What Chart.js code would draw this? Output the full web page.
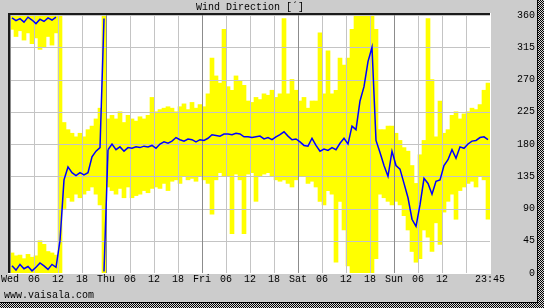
<!DOCTYPE html>
<html>
<head>
<meta charset="utf-8">
<script src="https://cdn.jsdelivr.net/npm/chart.js@4"></script>
<style>
  html, body { margin: 0; padding: 0; background: #cccccc; }
  #wrap { width: 544px; height: 308px; }
</style>
</head>
<body>
<div id="wrap"><canvas id="chart" width="544" height="308"></canvas></div>
<script>
// wind direction, hourly, Wed 00:00 -> Sun 23:45
const dayNames = ['Wed', 'Thu', 'Fri', 'Sat', 'Sun'];
const yTicks = [0, 45, 90, 135, 180, 225, 270, 315, 360];

// average direction
const avgDir = [
  356, 352, 355, 350, 357, 353, 348, 354, 351, 356, 353, 357,
  45,
  130, 148, 140, 136, 140, 137, 140, 162, 170, 175,
  355,
  172, 180, 172, 176, 170, 175,
  174, 176, 175, 177, 176, 178, 174, 180, 183, 181,
  184, 189, 186, 184, 187, 186, 183, 186, 185, 188,
  193, 192, 191, 194, 194, 193, 195, 194, 190, 190,
  189, 190, 191, 187, 189, 186, 190, 193, 197, 191,
  186, 187, 183, 178, 177, 188, 178, 170, 173, 171,
  175, 172, 181, 188, 180, 205, 200, 240, 260, 295,
  315, 185, 168, 150, 135, 170, 150, 145, 125, 105,
  75, 65, 95, 132, 125, 110, 128, 130, 150, 158,
  172, 160, 176, 174, 180, 184, 185, 189, 190, 186
];
// same average seen on the 0° side when it wraps past north
const avgWrap = [
  10, 4, 12, 6, 9, 3, 8, 14, 10, 5, 12, 8,
  45,
  null, null, null, null, null, null, null, null, null, null,
  2, 172
];

// min / max direction
const minDir = [
  340, 330, 338, 325, 335, 320, 328, 312, 315, 330, 318, 335,
  0,
  90, 105, 100, 110, 105, 110, 115, 120, 110, 95,
  0,
  120, 115, 110, 118, 105, 120,
  105, 108, 110, 115, 112, 118, 120, 118, 125, 115,
  128, 130, 125, 135, 130, 132, 128, 135, 130, 125,
  82, 130, 140, 135, 135, 55, 138, 130, 55, 138,
  140, 100, 135, 138, 140, 135, 130, 128, 130, 125,
  120, 130, 135, 135, 125, 128, 120, 100, 95, 115,
  110, 15, 100, 60, 10, 0, 0, 0, 0, 0,
  0, 20, 110, 105, 100, 95, 100, 95, 80, 60,
  30, 15, 20, 60, 50, 30, 70, 40, 85, 100,
  110, 75, 115, 120, 125, 128, 120, 135, 130, 75
];
const maxDir = [
  360, 360, 360, 360, 360, 360, 360, 360, 360, 360, 360, 360,
  360,
  210, 200, 195, 190, 195, 190, 200, 205, 215, 230,
  360,
  215, 220, 215, 225, 210, 220,
  215, 212, 218, 215, 220, 245, 225, 228, 230, 232,
  230, 225, 232, 236, 228, 238, 230, 235, 232, 250,
  300, 275, 265, 340, 260, 255, 275, 268, 262, 240,
  238, 245, 242, 250, 248, 255, 245, 250, 355, 250,
  270, 255, 240, 245, 230, 240, 240, 335, 250, 310,
  250, 255, 300, 290, 300, 340, 360, 360, 360, 360,
  360, 340, 200, 200, 205, 205, 195, 185, 175, 170,
  150, 125, 165, 185, 355, 270, 190, 240, 195, 200,
  220, 225, 215, 222, 225, 230, 228, 235, 255, 265
];
// max on the 0° side for the northerly hours of Wed morning
const maxWrap = [28, 24, 25, 20, 26, 22, 24, 45, 40, 30, 28, 25];

Chart.defaults.font.family = "'Liberation Mono', 'DejaVu Sans Mono', monospace";
Chart.defaults.font.size = 10;
Chart.defaults.color = '#000';

const pts = arr => arr.map((v, i) => ({ x: i + 0.5, y: v }));
const rangePts = (lo, hi) => hi.map((v, i) => ({ x: i + 0.5, y: [lo ? lo[i] : 0, v] }));

// hide the segment where the direction wraps across north
const wrapSegment = {
  borderColor: ctx => Math.abs(ctx.p1.parsed.y - ctx.p0.parsed.y) > 180 ? 'rgba(0,0,0,0)' : undefined
};

// checker pattern for the shadow strips
const pc = document.createElement('canvas');
pc.width = 2; pc.height = 2;
const pctx = pc.getContext('2d');
pctx.fillStyle = '#d8d8d8'; pctx.fillRect(0, 0, 2, 2);
pctx.fillStyle = '#000'; pctx.fillRect(0, 0, 1, 1); pctx.fillRect(1, 1, 1, 1);

const frame = {
  id: 'frame',
  beforeDraw(chart) {
    const ctx = chart.ctx, a = chart.chartArea;
    ctx.save();
    ctx.fillStyle = '#cccccc';
    ctx.fillRect(0, 0, chart.width, chart.height);
    ctx.fillStyle = '#ffffff';
    ctx.fillRect(a.left, a.top, a.right - a.left, a.bottom - a.top);
    ctx.restore();
  },
  // grid goes over the yellow bars but under the blue line
  beforeDatasetDraw(chart, args) {
    if (args.index !== 1) return;
    const ctx = chart.ctx, a = chart.chartArea;
    const xs = chart.scales.x, ys = chart.scales.y;
    ctx.save();
    ys.ticks.forEach(t => {
      const y = Math.round(ys.getPixelForValue(t.value));
      ctx.fillStyle = '#c4c4c4';
      ctx.fillRect(a.left, y, a.right - a.left, 1);
    });
    xs.ticks.forEach(t => {
      const x = Math.round(xs.getPixelForValue(t.value));
      ctx.fillStyle = t.value % 24 === 0 ? '#8c8c8c' : '#c4c4c4';
      ctx.fillRect(x, a.top, 1, a.bottom - a.top);
    });
    ctx.restore();
  },
  afterDraw(chart) {
    const ctx = chart.ctx, a = chart.chartArea;
    const W = chart.width, H = chart.height;
    ctx.save();
    // sunken frame
    ctx.fillStyle = '#1a1a1a';
    ctx.fillRect(a.left - 2, a.top - 2, a.right - a.left + 2, 2);
    ctx.fillRect(a.left - 2, a.top - 2, 2, a.bottom - a.top + 2);
    ctx.fillStyle = '#ffffff';
    ctx.fillRect(a.right, a.top - 2, 1, a.bottom - a.top + 3);
    ctx.fillRect(a.left - 2, a.bottom, a.right - a.left + 3, 1);
    // shadow strips
    ctx.fillStyle = '#000';
    ctx.fillRect(W - 7, 0, 1, H);
    ctx.fillRect(0, H - 6, W, 1);
    ctx.fillStyle = ctx.createPattern(pc, 'repeat');
    ctx.fillRect(W - 6, 0, 6, H);
    ctx.fillRect(0, H - 5, W, 5);
    // texts
    ctx.fillStyle = '#000';
    ctx.font = "10px 'Liberation Mono', 'DejaVu Sans Mono', monospace";
    ctx.textBaseline = 'middle';
    ctx.textAlign = 'center';
    ctx.fillText('Wind Direction [´]', (a.left + a.right) / 2, 7);
    ctx.textAlign = 'left';
    ctx.fillText('www.vaisala.com', 4, 295);
    ctx.restore();
  }
};

new Chart(document.getElementById('chart'), {
  type: 'bar',
  data: {
    datasets: [
      {
        type: 'line', label: 'avg', data: pts(avgDir), order: 0,
        borderColor: '#0000ff', borderWidth: 1.5, pointRadius: 0, tension: 0,
        spanGaps: false, segment: wrapSegment
      },
      {
        type: 'line', label: 'avg wrap', data: pts(avgWrap), order: 0,
        borderColor: '#0000ff', borderWidth: 1.5, pointRadius: 0, tension: 0,
        spanGaps: false, segment: wrapSegment
      },
      {
        label: 'range', data: rangePts(minDir, maxDir), order: 1,
        backgroundColor: '#ffff00', borderWidth: 0, grouped: false,
        barPercentage: 1, categoryPercentage: 1
      },
      {
        label: 'range wrap', data: rangePts(null, maxWrap), order: 1,
        backgroundColor: '#ffff00', borderWidth: 0, grouped: false,
        barPercentage: 1, categoryPercentage: 1
      }
    ]
  },
  options: {
    responsive: false,
    animation: false,
    events: [],
    layout: { padding: { left: 10, top: 15, right: 9, bottom: 0 } },
    plugins: { legend: { display: false }, tooltip: { enabled: false }, title: { display: false } },
    scales: {
      x: {
        type: 'linear', min: 0, max: 120, offset: false,
        grid: { display: false, drawTicks: false, offset: false },
        border: { display: false },
        afterFit: s => { s.height = 35; },
        afterBuildTicks: s => { s.ticks = []; for (let h = 0; h <= 120; h += 6) s.ticks.push({ value: h }); },
        ticks: {
          autoSkip: false, maxRotation: 0, padding: 0,
          callback: v => {
            if (v === 120) return '23:45';
            if (v === 114) return '';
            if (v % 24 === 0) return dayNames[v / 24];
            return String(v % 24).padStart(2, '0');
          }
        }
      },
      y: {
        position: 'right', min: 0, max: 360,
        grid: { display: false, drawTicks: false },
        border: { display: false },
        afterFit: s => { s.width = 45; },
        afterBuildTicks: s => { s.ticks = yTicks.map(v => ({ value: v })); },
        ticks: { crossAlign: 'far', padding: 0 }
      }
    }
  },
  plugins: [frame]
});
</script>
</body>
</html>
